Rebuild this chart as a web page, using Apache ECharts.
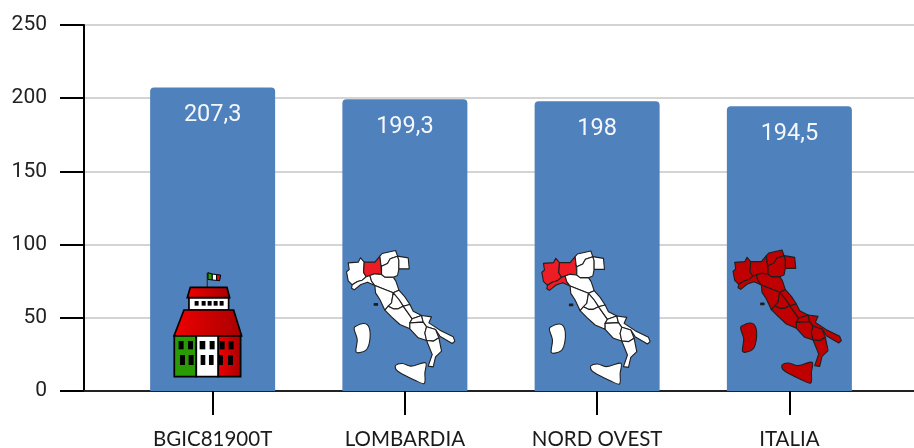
<!DOCTYPE html>
<html><head><meta charset="utf-8">
<style>html,body{margin:0;padding:0;background:#fff}#c{width:914px;height:448px}</style>
<script src="https://cdn.jsdelivr.net/npm/echarts@6/dist/echarts.min.js"></script>
</head><body><div id="c"></div>
<script>
const categories = ['BGIC81900T','LOMBARDIA','NORD OVEST','ITALIA'];
const values = [207.3,199.3,198,194.5];
const yTicks = {min:0,max:250,interval:50};
const iconKinds = ['school','lombardia','nordovest','italia'];

// ---- decoration shapes (drawn at a bar's coordinates through the axes) ----
const REGIONS = {
 piemonte:[[70,70],[100,68],[107,55],[118,68],[116,98],[124,112],[112,122],[98,126],[82,136],[70,124],[65,97],[73,90]],
 lombardia:[[118,68],[135,68],[150,68],[165,50],[168,75],[170,105],[150,103],[135,108],[124,112],[116,98]],
 liguria:[[82,136],[98,126],[112,122],[124,112],[135,108],[140,125],[150,138],[128,128],[108,135],[88,151],[80,146]],
 emilia:[[135,108],[150,103],[170,105],[180,113],[205,113],[213,125],[222,152],[205,160],[180,150],[150,138],[140,125]],
 trentino:[[165,50],[172,42],[212,33],[218,50],[196,58],[188,72],[170,80],[168,75]],
 veneto:[[170,80],[188,72],[196,58],[218,50],[222,62],[222,88],[218,108],[205,113],[180,113],[170,105]],
 friuli:[[218,50],[250,55],[253,88],[222,88],[222,62]],
 toscana:[[150,138],[180,150],[205,160],[200,190],[180,212],[165,180],[152,160]],
 marche:[[222,152],[240,172],[255,195],[235,200],[222,180],[205,160]],
 umbria:[[205,160],[222,180],[235,200],[220,208],[205,208],[190,200],[200,190]],
 lazio:[[180,212],[190,200],[205,208],[220,208],[235,200],[262,238],[255,250],[255,268],[225,255],[200,232]],
 abruzzo:[[235,200],[255,195],[265,215],[290,228],[262,238]],
 molise:[[262,238],[290,228],[295,248],[255,250]],
 puglia:[[290,228],[320,232],[312,250],[345,272],[385,292],[390,305],[382,312],[345,290],[332,270],[305,262],[295,248]],
 campania:[[255,250],[295,248],[305,262],[300,280],[305,303],[280,295],[255,268]],
 basilicata:[[305,262],[332,270],[342,295],[325,305],[305,303],[300,280]],
 calabria:[[305,303],[325,305],[342,295],[350,335],[332,352],[325,382],[310,380],[322,345]],
 sicilia:[[212,378],[232,372],[258,380],[302,370],[300,400],[298,432],[270,422],[235,405],[215,392]],
 sardegna:[[90,262],[118,252],[133,265],[135,300],[125,330],[100,340],[93,335],[97,300],[88,270]],
 elba:[[148,192],[158,192],[158,197],[148,197]]
};
const MAPSTYLE = {
 lombardia:{dx:-3,dy:-0.5,fill:r=>r==='lombardia'?'#ee1c25':'#fff'},
 nordovest:{dx:0,dy:0,fill:r=>['piemonte','lombardia','liguria'].includes(r)?'#ee1c25':'#fff'},
 italia:{dx:-1,dy:-1,fill:()=>'#c00000'}
};
function mapShapes(kind){
  const st=MAPSTYLE[kind];
  return Object.keys(REGIONS).map(r=>({
    type:'polygon',
    shape:{points:REGIONS[r].map(p=>[p[0]/3-77+st.dx,p[1]/3-151+st.dy]),smooth:(r==='sicilia'||r==='sardegna')?0.35:0},
    style:{fill:r==='elba'?'#1a1a1a':st.fill(r),stroke:'#1f1f1f',lineWidth:1.1,lineJoin:'round'}
  }));
}
function schoolShapes(){
  const P=p=>[(p[0]-219)/3,(p[1]-393)/3];
  const poly=(pts,fill,lw)=>({type:'polygon',shape:{points:pts.map(P)},style:{fill,stroke:'#000',lineWidth:lw==null?1.7:lw,lineJoin:'miter'}});
  const rect=(x0,y0,x1,y1,fill,lw)=>poly([[x0,y0],[x1,y0],[x1,y1],[x0,y1]],fill,lw==null?1.7:lw);
  const grad=(a,b)=>({type:'linear',x:0,y:0,x2:1,y2:0,colorStops:[{offset:0,color:a},{offset:1,color:b}]});
  const out=[
    {type:'line',shape:{x1:(203-219)/3,y1:(38-393)/3,x2:(203-219)/3,y2:(82-393)/3},style:{stroke:'#333',lineWidth:1.3}},
    poly([[205,38],[218,42],[218,60],[205,58]],'#2a9a05',1),
    poly([[218,42],[231,44],[231,61],[218,60]],'#fff',1),
    poly([[231,44],[243,45],[240,62],[231,61]],'#e01010',1),
    rect(148,113,267,150,'#fff'),
    poly([[143,113],[152,82],[262,82],[270,113]],grad('#f00000','#a80000')),
    poly([[103,228],[133,150],[282,150],[306,228]],grad('#f00000','#a80000')),
    rect(104,228,170,350,'#2a9a05'),
    rect(170,228,236,350,'#fff'),
    rect(236,228,303,350,grad('#f00000','#a80000'))
  ];
  const win=[[165,123,177,137],[186,123,198,137],[204,123,216,137],[222,123,234,137],[240,123,252,137],
   [117,243,132,268],[145,243,160,268],[180,243,197,268],[210,243,225,268],[240,243,255,268],[267,243,282,268],
   [121,285,136,315],[147,285,162,315],[183,285,197,315],[208,285,222,315],[237,285,250,315],[265,285,280,315]];
  win.forEach(w=>out.push(rect(w[0],w[1],w[2],w[3],'#000',0)));
  return out;
}
function renderIcon(params,api){
  const c=api.coord([api.value(0),0]);
  const kind=iconKinds[params.dataIndex];
  return {type:'group',x:c[0],y:c[1],silent:true,children:kind==='school'?schoolShapes():mapShapes(kind)};
}
const fmt=v=>String(v).replace('.',',');
const chart=echarts.init(document.getElementById('c'),null,{renderer:'canvas'});
chart.setOption({
  animation:false,
  backgroundColor:'#fff',
  grid:[
    {left:84,top:25,right:0,bottom:57,containLabel:false,outerBoundsMode:'none'},
    {left:116.5,top:25,width:769,bottom:57,containLabel:false,outerBoundsMode:'none'}
  ],
  xAxis:[
    {gridIndex:0,type:'value',min:0,max:1,axisLine:{show:true,lineStyle:{color:'#222',width:2}},axisTick:{show:false},axisLabel:{show:false},splitLine:{show:false}},
    {gridIndex:1,type:'category',data:categories,axisLine:{show:false},
     axisTick:{show:true,alignWithLabel:true,length:24,lineStyle:{color:'#000',width:2}},
     axisLabel:{margin:38,color:'#1a1a1a',fontFamily:'Lato',fontSize:20.5}}
  ],
  yAxis:[
    {gridIndex:0,type:'value',min:yTicks.min,max:yTicks.max,interval:yTicks.interval,
     axisLine:{show:true,lineStyle:{color:'#000',width:2}},
     axisTick:{show:true,length:24,lineStyle:{color:'#000',width:2}},
     axisLabel:{margin:37,color:'#222',fontFamily:'Roboto',fontSize:21,padding:[3,0,0,0]},
     splitLine:{show:true,lineStyle:{color:'#d4d4d4',width:2}}},
    {gridIndex:1,type:'value',min:yTicks.min,max:yTicks.max,interval:yTicks.interval,show:false}
  ],
  series:[
    {type:'bar',xAxisIndex:1,yAxisIndex:1,data:values,barWidth:125,
     itemStyle:{color:'#4f81bd',borderRadius:[4,4,0,0]},
     label:{show:true,position:'insideTop',distance:16,color:'#f4f7fb',fontFamily:'Roboto',fontSize:23.5,formatter:p=>fmt(p.value)}},
    {type:'custom',xAxisIndex:1,yAxisIndex:1,clip:false,z:5,silent:true,
     data:categories.map((c,i)=>[i]),encode:{x:0},renderItem:renderIcon}
  ]
});
</script></body></html>
